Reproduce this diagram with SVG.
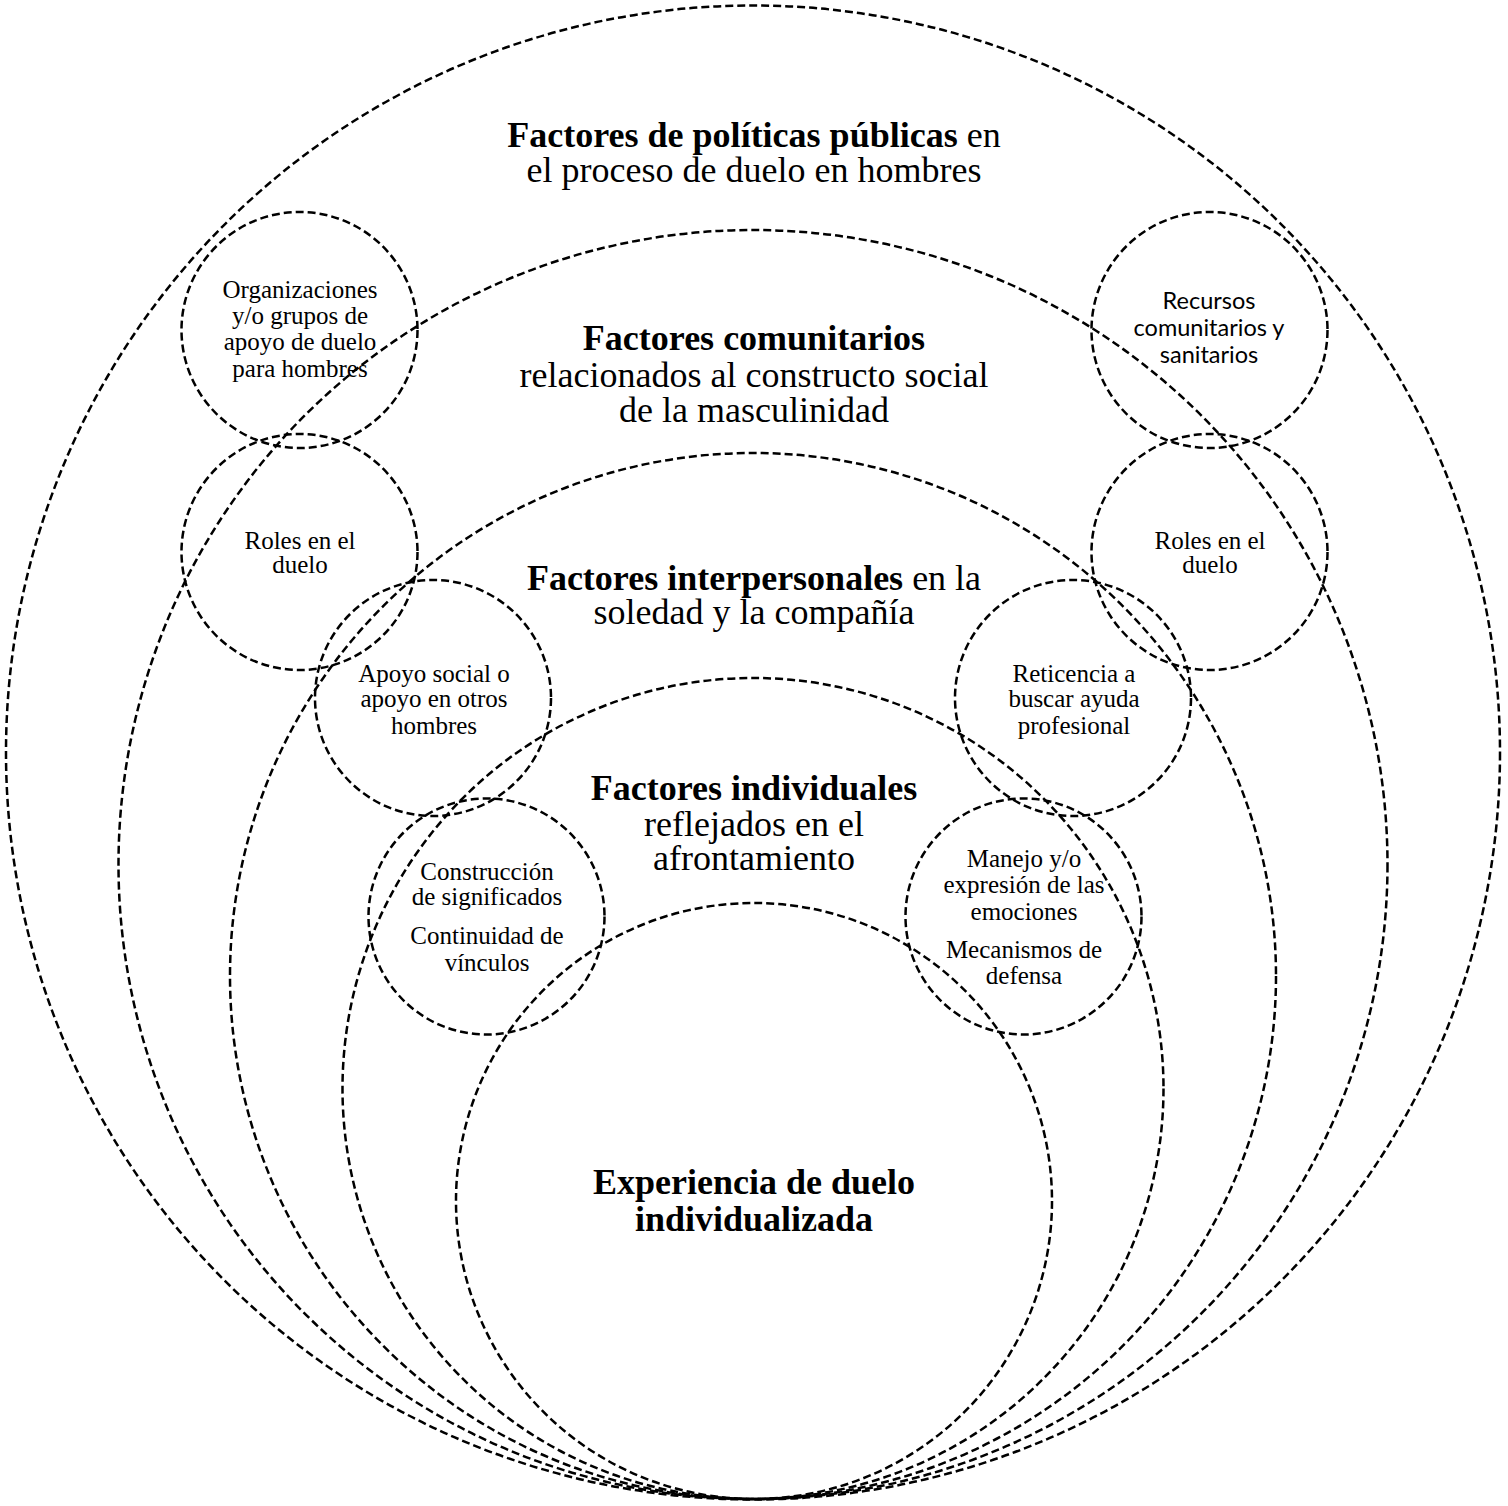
<svg xmlns="http://www.w3.org/2000/svg" width="1508" height="1506" viewBox="0 0 1508 1506">
<style>
.c{fill:none;stroke:#000;stroke-width:2.5;stroke-dasharray:8 4}
.t{font-family:"Liberation Serif","Times New Roman",serif;font-size:36px;text-anchor:middle;fill:#000}
.b{font-weight:bold}
.s{font-family:"Liberation Serif","Times New Roman",serif;font-size:25px;text-anchor:middle;fill:#000}
.ss{font-family:"Lato","Open Sans","Liberation Sans",sans-serif;font-size:23.5px;text-anchor:middle;fill:#000}
</style>
<rect width="1508" height="1506" fill="#fff"/>
<g id="layers">
<g id="politicas">
<circle class="c" cx="753" cy="752.5" r="747"/>
<text class="t" x="754" y="147"><tspan class="b">Factores de políticas públicas</tspan> en</text>
<text class="t" x="754" y="182">el proceso de duelo en hombres</text>
</g>
<g id="comunitarios">
<circle class="c" cx="753" cy="864.5" r="634.5"/>
<text class="t b" x="754" y="350">Factores comunitarios</text>
<text class="t" x="754" y="387">relacionados al constructo social</text>
<text class="t" x="754" y="422">de la masculinidad</text>
</g>
<g id="interpersonales">
<circle class="c" cx="753" cy="976" r="523"/>
<text class="t" x="754" y="590"><tspan class="b">Factores interpersonales</tspan> en la</text>
<text class="t" x="754" y="624">soledad y la compañía</text>
</g>
<g id="individuales">
<circle class="c" cx="753" cy="1088.5" r="410.5"/>
<text class="t b" x="754" y="800">Factores individuales</text>
<text class="t" x="754" y="836">reflejados en el</text>
<text class="t" x="754" y="870">afrontamiento</text>
</g>
<g id="experiencia">
<circle class="c" cx="754" cy="1201" r="298"/>
<text class="t b" x="754" y="1194" font-size="41">Experiencia de duelo</text>
<text class="t b" x="754" y="1231" font-size="41">individualizada</text>
</g>
</g>
<g id="organizaciones">
<circle class="c" cx="299.5" cy="330" r="118"/>
<text class="s" x="300" y="298">Organizaciones</text>
<text class="s" x="300" y="324">y/o grupos de</text>
<text class="s" x="300" y="350">apoyo de duelo</text>
<text class="s" x="300" y="377">para hombres</text>
</g>
<g id="roles-izq">
<circle class="c" cx="299.5" cy="552" r="118"/>
<text class="s" x="300" y="549">Roles en el</text>
<text class="s" x="300" y="573">duelo</text>
</g>
<g id="apoyo">
<circle class="c" cx="433" cy="698" r="118"/>
<text class="s" x="434" y="682">Apoyo social o</text>
<text class="s" x="434" y="707">apoyo en otros</text>
<text class="s" x="434" y="734">hombres</text>
</g>
<g id="construccion">
<circle class="c" cx="486.5" cy="916.5" r="118"/>
<text class="s" x="487" y="880">Construcción</text>
<text class="s" x="487" y="905">de significados</text>
<text class="s" x="487" y="944">Continuidad de</text>
<text class="s" x="487" y="971">vínculos</text>
</g>
<g id="recursos">
<circle class="c" cx="1209.5" cy="330" r="118"/>
<text class="ss" x="1209" y="309">Recursos</text>
<text class="ss" x="1209" y="336">comunitarios y</text>
<text class="ss" x="1209" y="363">sanitarios</text>
</g>
<g id="roles-der">
<circle class="c" cx="1209.5" cy="552" r="118"/>
<text class="s" x="1210" y="549">Roles en el</text>
<text class="s" x="1210" y="573">duelo</text>
</g>
<g id="reticencia">
<circle class="c" cx="1073" cy="698" r="118"/>
<text class="s" x="1074" y="682">Reticencia a</text>
<text class="s" x="1074" y="707">buscar ayuda</text>
<text class="s" x="1074" y="734">profesional</text>
</g>
<g id="manejo">
<circle class="c" cx="1023.5" cy="916.5" r="118"/>
<text class="s" x="1024" y="867">Manejo y/o</text>
<text class="s" x="1024" y="893">expresión de las</text>
<text class="s" x="1024" y="920">emociones</text>
<text class="s" x="1024" y="958">Mecanismos de</text>
<text class="s" x="1024" y="984">defensa</text>
</g>
<g id="connectors"></g>
</svg>
